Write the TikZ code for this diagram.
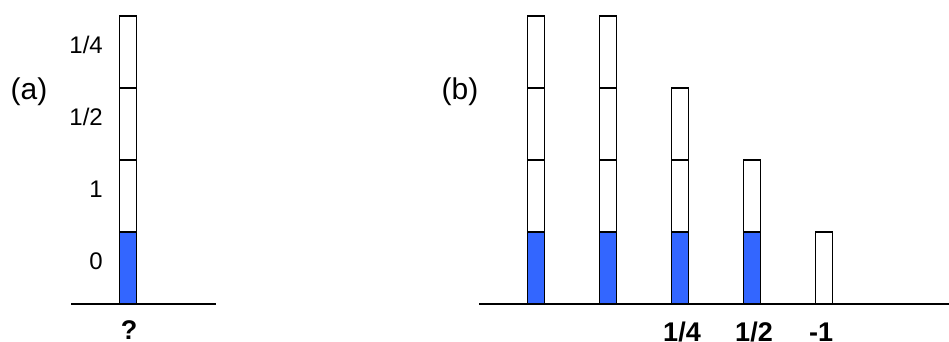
\documentclass[tikz,border=0pt]{standalone}
\usepackage{fontspec}
\setmainfont{Liberation Sans}
\usepackage{xcolor}
\usepackage{tikz}
\usetikzlibrary{positioning}
\definecolor{barblue}{HTML}{3366FF}

\tikzset{
  seg/.style={draw=black, line width=1.8pt, fill=white, inner sep=0pt, outer sep=0pt,
    minimum width=17pt, minimum height=72pt, anchor=south},
  baseln/.style={line width=1.8pt},
  tag/.style={font=\fontsize{30}{30}\selectfont},
  lvl/.style={font=\fontsize{24}{24}\selectfont, anchor=east, inner sep=0pt},
  val/.style={font=\fontsize{27}{27}\selectfont\bfseries, anchor=base, inner sep=0pt}
}

\begin{document}
\begin{tikzpicture}[x=1pt, y=-1pt]
\useasboundingbox (0,0) rectangle (949,341);

% (a): one full bar
\node[tag] (taga) at (29,92) {(a)};
\draw[baseln] (71,304) -- (216,304);
\foreach \k/\col in {1/barblue, 2/white, 3/white, 4/white} {
  \node[seg, fill=\col] (a\k) at (128,{304-72*(\k-1)}) {};
}
\foreach \k/\txt in {1/0, 2/1, 3/1\slash 2, 4/1\slash 4} {
  \node[lvl] (la\k) at (103,{261-72*(\k-1)}) {\txt};
}
\node[val] (qa) at (129,339) {?};

% (b): bars of falling height
\node[tag] (tagb) at (460,92) {(b)};
\draw[baseln] (479,304) -- (949,304);
\foreach \i/\n/\col in {0/4/barblue, 1/4/barblue, 2/3/barblue, 3/2/barblue, 4/1/white} {
  \node[seg, fill=\col] (b\i-1) at ({536+72*\i},304) {};
  \foreach \k in {2,3,4} {
    \ifnum\k>\n\else
      \node[seg] (b\i-\k) at ({536+72*\i},{304-72*(\k-1)}) {};
    \fi
  }
}
\node[val] (vb2) at (682,341) {1/4};
\node[val] (vb3) at (754,341) {1/2};
\node[val] (vb4) at (821,341) {-1};
\end{tikzpicture}
\end{document}
